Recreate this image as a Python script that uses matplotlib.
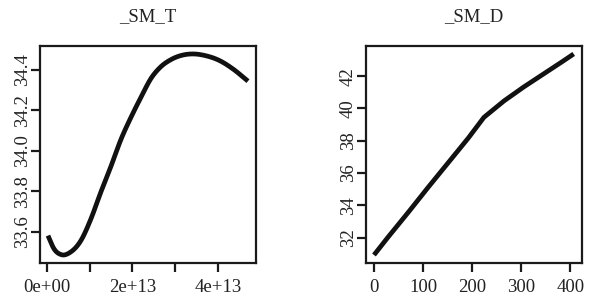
import numpy as np
import matplotlib
matplotlib.use("Agg")
import matplotlib.pyplot as plt

plt.rcParams['font.family'] = ['Liberation Serif', 'DejaVu Serif']

# _SM_T panel (x in units of 1e13)
t_x = [0.03, 0.17, 0.34, 0.56, 0.80, 1.03, 1.26, 1.50, 1.73, 1.97, 2.20,
       2.44, 2.67, 2.90, 3.21, 3.41, 3.72, 4.04, 4.35, 4.70]
t_y = [33.582, 33.517, 33.488, 33.501, 33.558, 33.663, 33.794, 33.923,
       34.054, 34.166, 34.263, 34.358, 34.415, 34.449, 34.473, 34.477,
       34.468, 34.444, 34.403, 34.343]

# _SM_D panel
d_x = [0, 29, 70, 110, 151, 192, 224, 265, 305, 346, 383, 407]
d_y = [30.92, 32.04, 33.57, 35.1, 36.63, 38.16, 39.45, 40.47, 41.33,
       42.15, 42.89, 43.38]

t_xticks = [0, 1e13, 2e13, 3e13, 4e13]
t_xlabels = ['0e+00', '', '2e+13', '', '4e+13']
t_yticks = [33.6, 33.8, 34.0, 34.2, 34.4]
d_xticks = [0, 100, 200, 300, 400]
d_yticks = [32, 34, 36, 38, 40, 42]

txt = '#222222'


def smooth(x, y):
    # piecewise cubic hermite through the read points
    x = np.asarray(x, float)
    y = np.asarray(y, float)
    m = np.gradient(y, x)
    xs_all, ys_all = [], []
    for i in range(len(x) - 1):
        h = x[i + 1] - x[i]
        t = np.linspace(0, 1, 25)
        yy = ((2*t**3 - 3*t**2 + 1) * y[i] + (t**3 - 2*t**2 + t) * h * m[i]
              + (-2*t**3 + 3*t**2) * y[i + 1] + (t**3 - t**2) * h * m[i + 1])
        xs_all.append(x[i] + t * h)
        ys_all.append(yy)
    return np.concatenate(xs_all), np.concatenate(ys_all)


fig = plt.figure(figsize=(5.89, 3.02), dpi=100)
ax1 = fig.add_axes([0.0679, 0.129, 0.3667, 0.719])
ax2 = fig.add_axes([0.6214, 0.129, 0.3662, 0.719])

xs, ys = smooth(np.array(t_x) * 1e13, t_y)
ax1.plot(xs, ys, color='#111111', lw=3.4, solid_capstyle='butt')
ax2.plot(d_x, d_y, color='#111111', lw=3.4, solid_capstyle='butt',
         solid_joinstyle='round')

for ax, title in [(ax1, '_SM_T'), (ax2, '_SM_D')]:
    ax.margins(0.04)
    ax.set_title(title, fontsize=13.5, color=txt, pad=18)
    for s in ax.spines.values():
        s.set_linewidth(1.6)
        s.set_color('#1a1a1a')
    ax.tick_params(length=6.5, width=1.6, color='#1a1a1a', labelsize=13.5,
                   labelcolor=txt)
    ax.tick_params(axis='x', pad=5)
    ax.tick_params(axis='y', pad=0)

ax1.set_xticks(t_xticks)
ax1.set_xticklabels(t_xlabels)
ax1.set_yticks(t_yticks)
ax1.set_yticklabels(['%.1f' % v for v in t_yticks], rotation=90, va='center')
ax2.set_xticks(d_xticks)
ax2.set_yticks(d_yticks)
ax2.set_yticklabels([str(v) for v in d_yticks], rotation=90, va='center')

fig.savefig('out.png', dpi=100)
